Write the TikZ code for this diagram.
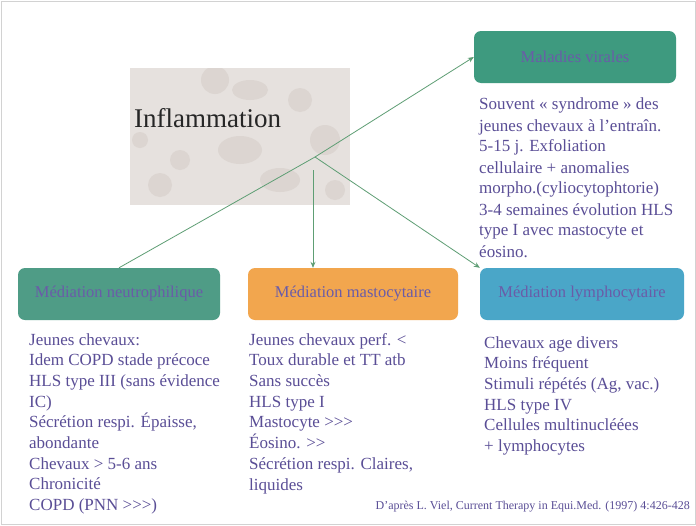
\documentclass[tikz,border=0pt]{standalone}
\usepackage{fontspec}
\setmainfont{Liberation Serif}
\usetikzlibrary{arrows.meta}
\definecolor{teal1}{HTML}{3E9A7F}
\definecolor{teal2}{HTML}{4F9C86}
\definecolor{orng}{HTML}{F2A64E}
\definecolor{blu}{HTML}{4AA6C8}
\definecolor{hdtxt}{HTML}{6A5CA8}
\definecolor{bodytxt}{HTML}{5A4E96}
\definecolor{imgbg}{HTML}{E6E1DE}
\definecolor{imgblob}{HTML}{DCD5D1}
\definecolor{conn}{HTML}{5E9E74}
\newcommand{\gtgt}{>\kern0pt>}
\newcommand{\gtgtgt}{>\kern0pt>\kern0pt>}
\tikzset{
  header/.style={rounded corners=7pt, minimum height=52pt, inner sep=0pt,
    text=hdtxt, font=\fontsize{16.5}{19}\selectfont},
  bodytext/.style={anchor=north west, align=left, inner sep=0pt, text=bodytxt,
    font=\fontsize{17}{20.7}\selectfont},
  link/.style={draw=conn, line width=0.8pt},
  arr/.style={link, -{Stealth[length=6pt,width=5pt]}}
}
\begin{document}
\begin{tikzpicture}[x=1pt,y=-1pt]
\useasboundingbox (0,0) rectangle (696,525);
\fill[white] (0,0) rectangle (696,525);
\draw[gray!35, line width=1pt] (1,1) rectangle (695,524);
% inflammation picture
\fill[imgbg] (130,68) rectangle (350,205);
\begin{scope}
\clip (130,68) rectangle (350,205);
\fill[imgblob] (215,80) circle (14);
\fill[imgblob] (250,90) ellipse (18 and 10);
\fill[imgblob] (300,100) circle (12);
\fill[imgblob] (325,140) circle (15);
\fill[imgblob] (240,150) ellipse (22 and 14);
\fill[imgblob] (180,160) circle (10);
\fill[imgblob] (160,185) circle (12);
\fill[imgblob] (280,180) ellipse (20 and 12);
\fill[imgblob] (335,190) circle (10);
\fill[imgblob] (140,140) circle (8);
\end{scope}
\node[anchor=west, inner sep=0pt, text=black!85, font=\fontsize{27}{30}\selectfont] (infl) at (134,118) {Inflammation};
% headers
\node[header, fill=teal1, minimum width=202pt] (vir) at (575,57) {Maladies virales};
\node[header, fill=teal2, minimum width=202pt] (neu) at (119,294) {Médiation neutrophilique};
\node[header, fill=orng, minimum width=210pt] (mas) at (353,294) {Médiation mastocytaire};
\node[header, fill=blu, minimum width=204pt] (lym) at (582,294) {Médiation lymphocytaire};
% body texts
\node[bodytext, font=\fontsize{17}{21}\selectfont] (tvir) at (479,98) {Souvent « syndrome » des\\jeunes chevaux à l'entraîn.\\5-15 j. Exfoliation\\cellulaire + anomalies\\morpho.(cyliocytophtorie)\\3-4 semaines évolution HLS\\type I avec mastocyte et\\éosino.};
\node[bodytext] (tneu) at (29,333) {Jeunes chevaux:\\Idem COPD stade précoce\\HLS type III (sans évidence\\IC)\\Sécrétion respi. Épaisse,\\abondante\\Chevaux > 5-6 ans\\Chronicité\\COPD (PNN \gtgtgt)};
\node[bodytext] (tmas) at (249,333) {Jeunes chevaux perf. <\\Toux durable et TT atb\\Sans succès\\HLS type I\\Mastocyte \gtgtgt\\Éosino. \gtgt\\Sécrétion respi. Claires,\\liquides};
\node[bodytext] (tlym) at (484,336) {Chevaux age divers\\Moins fréquent\\Stimuli répétés (Ag, vac.)\\HLS type IV\\Cellules multinucléées\\+ lymphocytes};
\node[anchor=base east, inner sep=0pt, text=bodytxt, font=\fontsize{12}{14}\selectfont] (cite) at (690,509) {D'après L. Viel, Current Therapy in Equi.Med. (1997) 4:426-428};
% connectors
\coordinate (hub) at (315,157);
\coordinate (vtop) at (313,170);
\draw[arr] (hub) -- (vir.west);
\draw[link] (hub) -- (neu.north);
\draw[arr] (vtop) -- (vtop |- mas.north);
\draw[arr] (hub) -- (lym.north west);
\end{tikzpicture}
\end{document}
